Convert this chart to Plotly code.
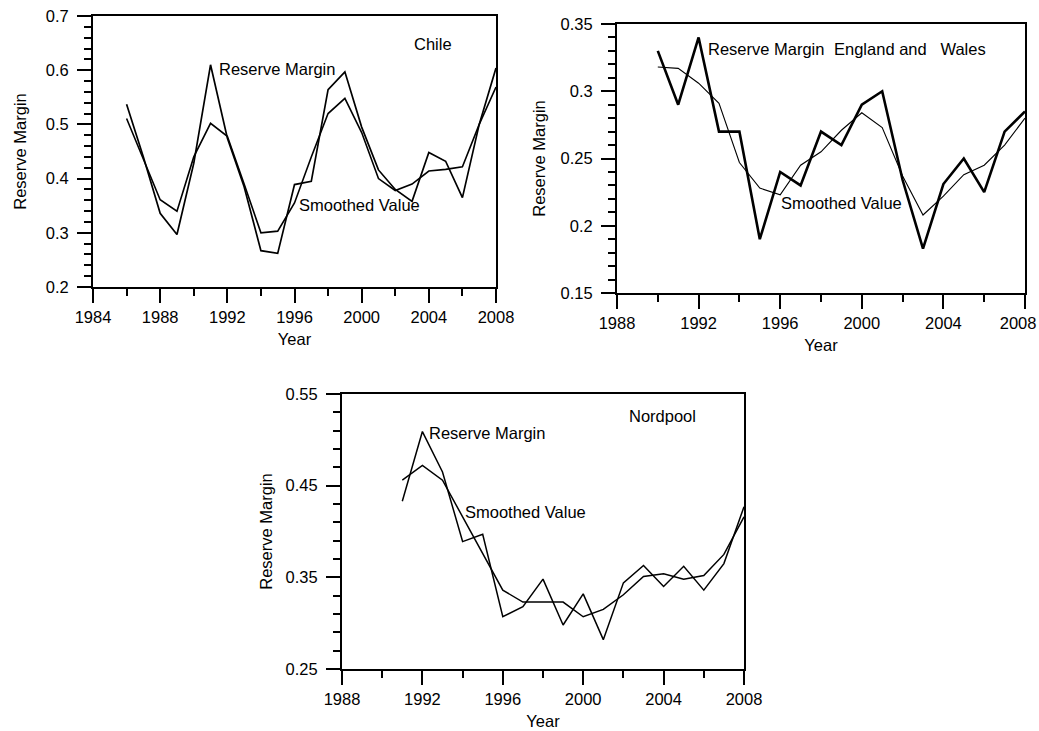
import plotly.graph_objects as go

W, H = 1039, 731

# ---------------- data ----------------
chile_years = list(range(1986, 2009))
chile_rm = [0.537, 0.44, 0.336, 0.297, 0.428, 0.61, 0.475, 0.385, 0.267, 0.262,
            0.389, 0.395, 0.564, 0.597, 0.495, 0.416, 0.38, 0.358, 0.448, 0.432,
            0.365, 0.50, 0.604]
chile_sm = [0.511, 0.435, 0.361, 0.34, 0.44, 0.502, 0.478, 0.39, 0.30, 0.303,
            0.355, 0.44, 0.52, 0.548, 0.485, 0.40, 0.378, 0.39, 0.414, 0.417,
            0.422, 0.50, 0.569]

ew_years = list(range(1990, 2009))
ew_rm = [0.33, 0.29, 0.34, 0.27, 0.27, 0.19, 0.24, 0.23, 0.27, 0.26,
         0.29, 0.30, 0.234, 0.183, 0.231, 0.25, 0.225, 0.27, 0.285]
ew_sm = [0.318, 0.317, 0.306, 0.291, 0.247, 0.228, 0.223, 0.245, 0.255, 0.271,
         0.284, 0.273, 0.237, 0.208, 0.222, 0.238, 0.245, 0.26, 0.28]

nord_years = list(range(1991, 2009))
nord_rm = [0.433, 0.509, 0.465, 0.389, 0.397, 0.307, 0.318, 0.348, 0.298, 0.332,
           0.282, 0.344, 0.363, 0.34, 0.362, 0.336, 0.365, 0.427]
nord_sm = [0.456, 0.472, 0.456, 0.416, 0.375, 0.336, 0.323, 0.323, 0.323, 0.307,
           0.315, 0.331, 0.351, 0.354, 0.348, 0.352, 0.375, 0.416]

chile_xticks = [1984, 1988, 1992, 1996, 2000, 2004, 2008]
other_xticks = [1988, 1992, 1996, 2000, 2004, 2008]
chile_yticks = [0.2, 0.3, 0.4, 0.5, 0.6, 0.7]
chile_ytext = ["0.2", "0.3", "0.4", "0.5", "0.6", "0.7"]
ew_yticks = [0.15, 0.2, 0.25, 0.3, 0.35]
ew_ytext = ["0.15", "0.2", "0.25", "0.3", "0.35"]
nord_yticks = [0.25, 0.35, 0.45, 0.55]
nord_ytext = ["0.25", "0.35", "0.45", "0.55"]

FONT = "Liberation Sans, Arial, sans-serif"
FS = 16.5

# ---------------- layout helpers ----------------
def px_x(p):
    return p / W

def px_y(p):
    return 1 - p / H

panels = {
    # name: (left, right, top, bottom) in pixels
    "1": (93, 496, 16, 287),
    "2": (617, 1025, 24, 293),
    "3": (342, 744, 394, 669),
}

fig = go.Figure()

def add_lines(years, rm, sm, ax, w_rm, w_sm):
    xa = "x" if ax == "1" else "x" + ax
    ya = "y" if ax == "1" else "y" + ax
    fig.add_trace(go.Scatter(x=years, y=sm, mode="lines", xaxis=xa, yaxis=ya,
                             line=dict(color="black", width=w_sm), showlegend=False,
                             name="Smoothed Value"))
    fig.add_trace(go.Scatter(x=years, y=rm, mode="lines", xaxis=xa, yaxis=ya,
                             line=dict(color="black", width=w_rm), showlegend=False,
                             name="Reserve Margin"))

add_lines(chile_years, chile_rm, chile_sm, "1", 1.7, 1.6)
add_lines(ew_years, ew_rm, ew_sm, "2", 2.6, 1.1)
add_lines(nord_years, nord_rm, nord_sm, "3", 1.5, 1.5)

def axis_common():
    return dict(showline=True, linecolor="black", linewidth=2, mirror=True,
                ticks="outside", ticklen=14, tickwidth=1.6, tickcolor="black",
                showgrid=False, zeroline=False, automargin=False,
                tickfont=dict(family=FONT, size=FS, color="black"),
                title_font=dict(family=FONT, size=FS, color="black"))

def make_x(ax, rng, tickvals, ticktext):
    l, r, t, b = panels[ax]
    d = axis_common()
    d.update(domain=[px_x(l), px_x(r)], range=rng, tickvals=tickvals,
             ticktext=ticktext, ticklabeloverflow="allow",
             minor=dict(ticks="outside", ticklen=7, tickwidth=1.6, tickcolor="black",
                        dtick=2, tick0=1984, showgrid=False),
             title=dict(text="Year", standoff=9),
             anchor="y" if ax == "1" else "y" + ax)
    return d

def make_y(ax, rng, tickvals, ticktext, minor_dtick, standoff):
    l, r, t, b = panels[ax]
    d = axis_common()
    d.update(domain=[px_y(b), px_y(t)], range=rng, tickvals=tickvals, ticktext=ticktext,
             ticklabelstandoff=5,
             minor=dict(ticks="outside", ticklen=7, tickwidth=1.6, tickcolor="black",
                        dtick=minor_dtick, tick0=rng[0], showgrid=False),
             title=dict(text="Reserve Margin", standoff=standoff),
             anchor="x" if ax == "1" else "x" + ax)
    return d

chile_xtext = [str(v) for v in chile_xticks]
other_xtext = [str(v) for v in other_xticks]
ew_xtext = other_xtext[:-1] + [other_xtext[-1] + "\u00a0\u00a0\u00a0"]

fig.update_layout(
    width=W, height=H,
    margin=dict(l=0, r=0, t=0, b=0, autoexpand=False),
    paper_bgcolor="white", plot_bgcolor="white",
    font=dict(family=FONT, size=FS, color="black"),
    xaxis=make_x("1", [1984, 2008], chile_xticks, chile_xtext),
    yaxis=make_y("1", [0.2, 0.7], chile_yticks, chile_ytext, 0.02, 15),
    xaxis2=make_x("2", [1988, 2008], other_xticks, ew_xtext),
    yaxis2=make_y("2", [0.15, 0.35], ew_yticks, ew_ytext, 0.01, 11),
    xaxis3=make_x("3", [1988, 2008], other_xticks, other_xtext),
    yaxis3=make_y("3", [0.25, 0.55], nord_yticks, nord_ytext, 0.02, 9),
)

labels = [
    ("Chile", 413, 44),
    ("Reserve Margin", 218, 69),
    ("Smoothed Value", 298, 205),
    ("Reserve Margin", 707, 49),
    ("England and   Wales", 833, 49),
    ("Smoothed Value", 780, 203),
    ("Nordpool", 628, 416),
    ("Reserve Margin", 428, 433),
    ("Smoothed Value", 464, 512),
]
for text, lx, ly in labels:
    fig.add_annotation(text=text.replace("   ", "&nbsp;&nbsp;&nbsp;"), x=px_x(lx), y=px_y(ly),
                       xref="paper", yref="paper", xanchor="left", yanchor="middle",
                       showarrow=False, font=dict(family=FONT, size=FS, color="black"),
                       borderpad=0)

fig.write_html("out.html")
